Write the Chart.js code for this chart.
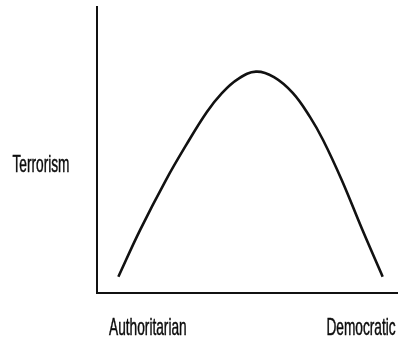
<!DOCTYPE html>
<html>
<head>
<meta charset="utf-8">
<script src="https://cdn.jsdelivr.net/npm/chart.js@4"></script>
<style>
  body { margin: 0; background: #fff; }
  #wrap { width: 398px; height: 339px; }
</style>
</head>
<body>
<div id="wrap"><canvas id="curveChart"></canvas></div>
<script>
// Curve points (x: regime type 0-100, y: terrorism 0-100)
const curveX = [7.1, 14.3, 22.9, 29.6, 36.5, 41.5, 46.8, 52.8, 58.8, 65.1, 70.8, 75.1, 81.3, 88.2, 94.9];
const curveY = [5.7, 22.0, 39.5, 51.7, 63.3, 69.9, 74.8, 77.4, 75.5, 69.9, 61.5, 53.5, 39.5, 22.0, 5.7];

// Axis labels and where they sit on the scales
const xLabels = ['Authoritarian', 'Democratic'];
const xLabelValues = [16.9, 87.7];
const yLabels = ['Terrorism'];
const yLabelValues = [42.3];

// Draws the squeezed axis labels using the chart's own scales
const axisLabelPlugin = {
    id: 'axisLabels',
    afterDraw(chart) {
        const ctx = chart.ctx;
        const xs = chart.scales.x;
        const ys = chart.scales.y;
        const squeeze = 0.57;
        ctx.save();
        ctx.fillStyle = '#0d0d0d';
        ctx.strokeStyle = '#0d0d0d';
        ctx.lineWidth = 0.5;
        ctx.font = '24px "Liberation Sans", Arial, sans-serif';
        ctx.textAlign = 'center';
        ctx.textBaseline = 'alphabetic';

        const put = (label, x, y) => {
            ctx.save();
            ctx.translate(x, y);
            ctx.scale(squeeze, 1);
            ctx.fillText(label, 0, 0);
            ctx.strokeText(label, 0, 0);
            ctx.restore();
        };

        xLabels.forEach((label, i) => {
            put(label, xs.getPixelForValue(xLabelValues[i]), chart.chartArea.bottom + 42);
        });
        yLabels.forEach((label, i) => {
            put(label, chart.chartArea.left - 56, ys.getPixelForValue(yLabelValues[i]));
        });
        ctx.restore();
    }
};

const ctx = document.getElementById('curveChart').getContext('2d');
new Chart(ctx, {
    type: 'line',
    data: {
        datasets: [{
            data: curveX.map((x, i) => ({ x: x, y: curveY[i] })),
            borderColor: '#111',
            borderWidth: 2.6,
            pointRadius: 0,
            fill: false,
            tension: 0.4
        }]
    },
    options: {
        responsive: true,
        maintainAspectRatio: false,
        animation: false,
        layout: {
            padding: { top: 7, left: 0, bottom: 0, right: 0 }
        },
        plugins: {
            legend: { display: false },
            tooltip: { enabled: false }
        },
        scales: {
            x: {
                type: 'linear',
                min: 0,
                max: 100,
                grid: { display: false },
                ticks: { display: false },
                border: { display: true, color: '#111', width: 2 },
                afterFit: (scale) => { scale.height = 46; }
            },
            y: {
                type: 'linear',
                min: 0,
                max: 100,
                grid: { display: false },
                ticks: { display: false },
                border: { display: true, color: '#111', width: 2 },
                afterFit: (scale) => { scale.width = 97; }
            }
        }
    },
    plugins: [axisLabelPlugin]
});
</script>
</body>
</html>
